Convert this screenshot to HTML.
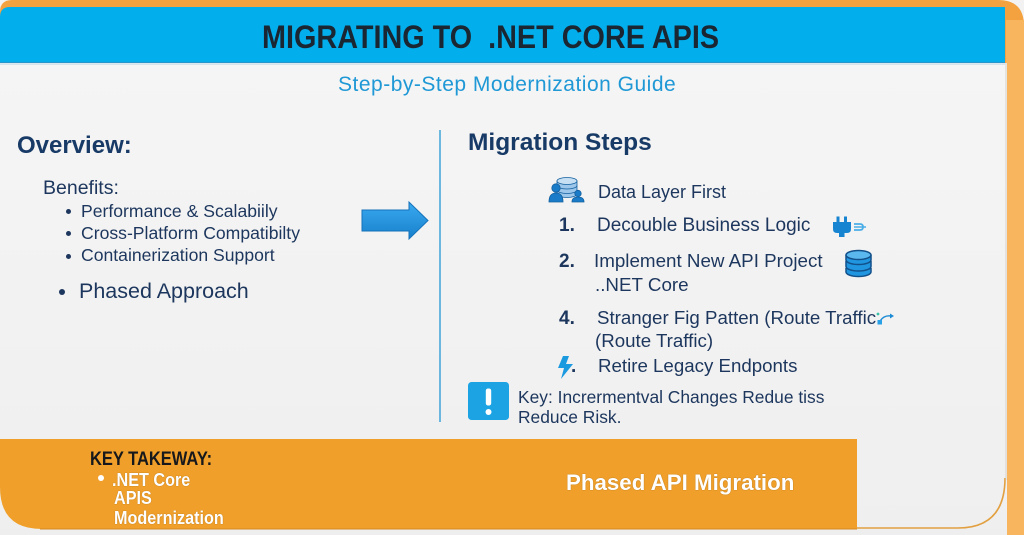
<!DOCTYPE html>
<html><head><meta charset="utf-8"><style>
html,body{margin:0;padding:0;}
body{width:1024px;height:535px;overflow:hidden;position:relative;background:#f2f2f2;font-family:"Liberation Sans",Arial,sans-serif;}
svg{position:absolute;left:0;top:0;}
.t{position:absolute;white-space:nowrap;line-height:1;color:#1c365d;}
.b{font-weight:bold;}
.dot{position:absolute;border-radius:50%;background:#1c365d;}
</style></head><body>
<svg width="1024" height="535" viewBox="0 0 1024 535">
  <defs>
    <linearGradient id="arr" x1="0" y1="0" x2="0" y2="1">
      <stop offset="0" stop-color="#3aaaf0"/><stop offset="1" stop-color="#1880cc"/>
    </linearGradient>
    <linearGradient id="pan" x1="0" y1="0" x2="0" y2="1">
      <stop offset="0" stop-color="#f5f5f5"/><stop offset="1" stop-color="#efefef"/>
    </linearGradient>
  </defs>
  <!-- outer orange frame -->
  <path d="M12,0 H998 Q1024,0 1024,26 V535 H0 V12 Q0,0 12,0 Z" fill="#f4a23f"/>
  <rect x="1006" y="20" width="18" height="515" fill="#f8b55e"/>
  <!-- panel -->
  <rect x="0" y="63" width="1007" height="472" fill="url(#pan)"/>
  <rect x="0" y="529" width="1007" height="6" fill="#eeeeee"/>
  <path d="M1005,478 Q1005,528 958,528 H855" fill="none" stroke="#e2a040" stroke-width="1.6"/>
  <line x1="1006" y1="63" x2="1006" y2="480" stroke="#d8d2c8" stroke-width="1"/>
  <!-- header -->
  <path d="M10,7 H1005 V63 H0 V17 Q0,7 10,7 Z" fill="#03aeec"/>
  <line x1="0" y1="62.5" x2="1005" y2="62.5" stroke="#2a95c8" stroke-width="1.2"/>
  <line x1="0" y1="64.5" x2="1005" y2="64.5" stroke="#d8e4ec" stroke-width="1"/>
  <!-- bottom orange bar -->
  <path d="M0,439 H857 V529 H42 Q0,529 0,487 Z" fill="#f0a02a"/>
  <line x1="40" y1="529" x2="857" y2="529" stroke="#d48a20" stroke-width="1"/>
  <!-- divider -->
  <line x1="440" y1="130" x2="440" y2="422" stroke="#4aa8dc" stroke-width="1.6"/>
  <!-- arrow -->
  <polygon points="362,210 409,210 409,202 428,220.5 409,239 409,231 362,231" fill="url(#arr)" stroke="#1572ba" stroke-width="1"/>
  <!-- data layer icon -->
  <g fill="#1a7cc8" stroke="#13609f" stroke-width="0.8">
    <path d="M557,181 v13 a10,3.5 0 0 0 20,0 v-13 Z" fill="#9cc6ea"/>
    <ellipse cx="567" cy="181" rx="10" ry="3.5" fill="#c6dff3"/>
    <path d="M557,185.5 a10,3.5 0 0 0 20,0 M557,190 a10,3.5 0 0 0 20,0" fill="none"/>
    <circle cx="556" cy="188" r="4.2"/>
    <path d="M549,202 Q549,193 556,193 Q563,193 563,202 Z"/>
    <circle cx="578" cy="193.5" r="3.2"/>
    <path d="M572,202 Q572,197 578,197 Q584,197 584,202 Z"/>
  </g>
  <!-- plug icon -->
  <g fill="#1784d2">
    <rect x="836.5" y="216.5" width="3" height="7" />
    <rect x="844" y="216.5" width="3" height="7" />
    <path d="M833,222 H851 V229 Q851,233 847,233 H837 Q833,233 833,229 Z"/>
    <rect x="839" y="233" width="5.5" height="4"/>
    <path d="M854,224 H860 Q863,224 863,227 Q863,230 860,230 H854" fill="none" stroke="#4aaee8" stroke-width="1.8"/>
    <line x1="854" y1="227" x2="866" y2="227" stroke="#4aaee8" stroke-width="1.5"/>
  </g>
  <!-- database icon -->
  <g stroke="#12508a" stroke-width="1.5" fill="#2196e0">
    <path d="M846,268 v4 a12.5,4.5 0 0 0 25,0 v-4"/>
    <path d="M846,261 v5.5 a12.5,4.5 0 0 0 25,0 v-5.5"/>
    <path d="M846,255 v5 a12.5,4.5 0 0 0 25,0 v-5"/>
    <ellipse cx="858.5" cy="255" rx="12.5" ry="4.5" fill="#5bb8ee"/>
  </g>
  <!-- route icon -->
  <g>
    <path d="M880,321 Q884,315 891,316" fill="none" stroke="#1b8bd6" stroke-width="1.4"/>
    <polygon points="890,313.5 894,316 890,318.5" fill="#1b8bd6"/>
    <rect x="877.5" y="320" width="4.5" height="4.5" fill="#2aa0e6"/>
    <circle cx="878" cy="314" r="1.4" fill="#3bc1a8"/>
  </g>
  <!-- lightning -->
  <polygon points="563,356 569,356 566,364 573,364 561,379 564,368 558,368" fill="#1b9ae0"/>
  <!-- exclamation box -->
  <rect x="468" y="382" width="41" height="38" rx="3.5" fill="#1ba3e3"/>
  <rect x="485.8" y="388.5" width="5.4" height="17" rx="2.2" fill="#fff"/>
  <circle cx="488.5" cy="412" r="3" fill="#fff"/>
</svg>

<div class="t b" style="left:262px;top:20.6px;font-size:32px;color:#1b2633;transform:scaleX(0.9);transform-origin:0 0;">MIGRATING TO&nbsp; .NET CORE APIS</div>
<div class="t" style="left:338px;top:73.7px;font-size:21px;color:#1f98d6;letter-spacing:0.5px;">Step-by-Step Modernization Guide</div>

<div class="t b" style="left:17px;top:133.7px;font-size:24px;color:#173a66;">Overview:</div>
<div class="t" style="left:43px;top:178.5px;font-size:19.5px;">Benefits:</div>
<div class="dot" style="left:66px;top:209.2px;width:5px;height:5px;"></div>
<div class="t" style="left:81px;top:202.5px;font-size:17.6px;">Performance &amp; Scalabiily</div>
<div class="dot" style="left:66px;top:231.2px;width:5px;height:5px;"></div>
<div class="t" style="left:81px;top:224.5px;font-size:17.6px;">Cross-Platform Compatibilty</div>
<div class="dot" style="left:66px;top:253.5px;width:5px;height:5px;"></div>
<div class="t" style="left:81px;top:246.9px;font-size:17.6px;">Containerization Support</div>
<div class="dot" style="left:59px;top:289px;width:6px;height:6px;"></div>
<div class="t" style="left:79px;top:281.1px;font-size:21.5px;">Phased Approach</div>

<div class="t b" style="left:468px;top:131px;font-size:24.5px;color:#173a66;">Migration Steps</div>
<div class="t" style="left:598px;top:182.5px;font-size:18px;">Data Layer First</div>
<div class="t b" style="left:559px;top:215.6px;font-size:19px;">1.</div>
<div class="t" style="left:597px;top:215.6px;font-size:19px;">Decouble Business Logic</div>
<div class="t b" style="left:559px;top:251.9px;font-size:19px;">2.</div>
<div class="t" style="left:594px;top:251.9px;font-size:18.8px;">Implement New API Project</div>
<div class="t" style="left:595px;top:275.6px;font-size:18.8px;">..NET Core</div>
<div class="t b" style="left:559px;top:308.9px;font-size:19px;">4.</div>
<div class="t" style="left:597px;top:308.9px;font-size:18.7px;">Stranger Fig Patten (Route Traffic</div>
<div class="t" style="left:595px;top:332.2px;font-size:18.7px;">(Route Traffic)</div>
<div class="t b" style="left:571px;top:356.6px;font-size:19px;">.</div>
<div class="t" style="left:598px;top:356.6px;font-size:18.7px;">Retire Legacy Endponts</div>
<div class="t" style="left:518px;top:389.2px;font-size:17.4px;">Key: Incrermentval Changes Redue tiss</div>
<div class="t" style="left:518px;top:409.2px;font-size:17.4px;">Reduce Risk.</div>

<div class="t b" style="left:89.5px;top:449.5px;font-size:19.5px;color:#16181c;transform:scaleX(0.845);transform-origin:0 0;">KEY TAKEWAY:</div>
<div class="dot" style="left:98px;top:475px;width:6px;height:6px;background:#fff;"></div>
<div class="t b" style="left:112px;top:470.5px;font-size:18px;color:#fff;transform:scaleX(0.9);transform-origin:0 0;text-shadow:0 0 1px rgba(90,50,0,0.6);">.NET Core</div>
<div class="t b" style="left:114px;top:489.1px;font-size:18px;color:#fff;transform:scaleX(0.9);transform-origin:0 0;text-shadow:0 0 1px rgba(90,50,0,0.6);">APIS</div>
<div class="t b" style="left:114px;top:509.3px;font-size:18px;color:#fff;transform:scaleX(0.9);transform-origin:0 0;text-shadow:0 0 1px rgba(90,50,0,0.6);">Modernization</div>
<div class="t b" style="left:566px;top:472.1px;font-size:22.3px;color:#fff;text-shadow:0 0 1px rgba(90,50,0,0.6);">Phased API Migration</div>
</body></html>
